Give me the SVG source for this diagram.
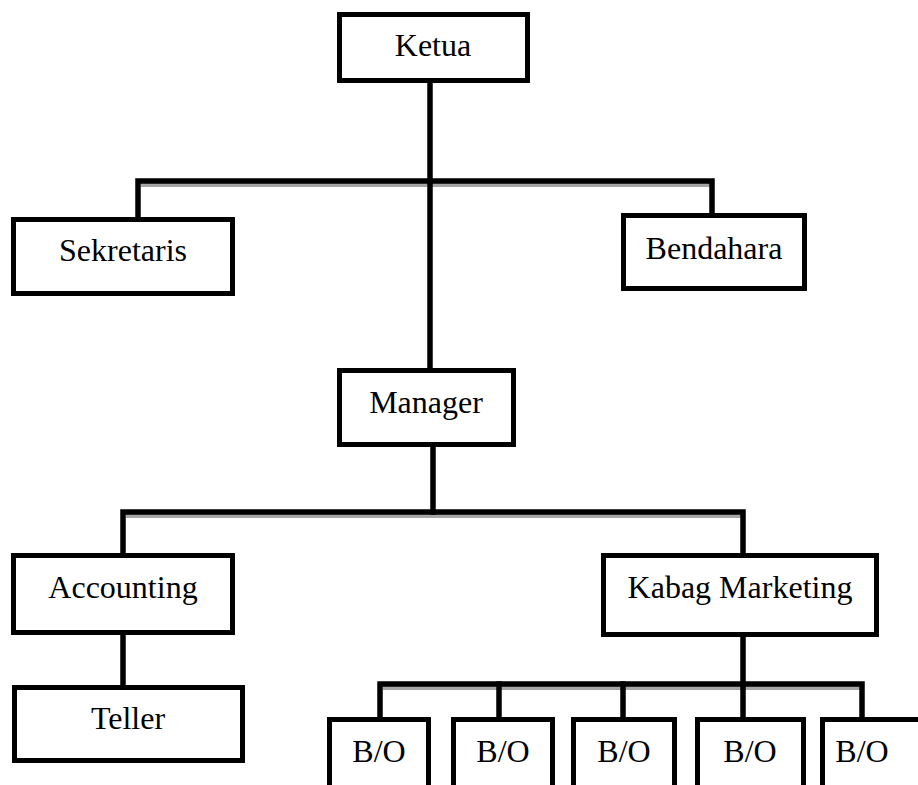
<svg xmlns="http://www.w3.org/2000/svg" width="918" height="785" viewBox="0 0 918 785">
<style>
  .box { fill: #ffffff; stroke: #000000; stroke-width: 5; }
  .open { fill: none; stroke: #000000; stroke-width: 5; }
  .ln { fill: none; stroke: #000000; stroke-width: 5.5; stroke-linecap: square; }
  .sh { fill: none; stroke: #a6a6a6; stroke-width: 4; }
  .t { font-family: "Liberation Serif", "Times New Roman", serif; font-size: 32px; fill: #000000; text-anchor: middle; }
</style>
<rect x="0" y="0" width="918" height="785" fill="#ffffff"/>
<g id="connectors">
  <line class="sh" x1="141" y1="185" x2="712" y2="185"/>
  <line class="sh" x1="126" y1="516" x2="743" y2="516"/>
  <line class="sh" x1="383" y1="688" x2="862" y2="688"/>
  <line class="ln" x1="430" y1="83" x2="430" y2="368"/>
  <polyline class="ln" points="138,217 138,181 712,181 712,213"/>
  <line class="ln" x1="433" y1="447" x2="433" y2="512"/>
  <polyline class="ln" points="123,553 123,512 743,512 743,553"/>
  <line class="ln" x1="123" y1="635" x2="123" y2="685"/>
  <line class="ln" x1="743" y1="637" x2="743" y2="717"/>
  <polyline class="ln" points="380,717 380,684 862,684 862,717"/>
  <line class="ln" x1="499" y1="684" x2="499" y2="717"/>
  <line class="ln" x1="623" y1="684" x2="623" y2="717"/>
</g>
<g id="ketua">
  <rect class="box" x="339.5" y="14.5" width="188" height="66"/>
  <text class="t" x="433" y="56">Ketua</text>
</g>
<g id="sekretaris">
  <rect class="box" x="13.5" y="219.5" width="219" height="74"/>
  <text class="t" x="123" y="261">Sekretaris</text>
</g>
<g id="bendahara">
  <rect class="box" x="623.5" y="215.5" width="181" height="73"/>
  <text class="t" x="714" y="259">Bendahara</text>
</g>
<g id="manager">
  <rect class="box" x="339.5" y="370.5" width="174" height="74"/>
  <text class="t" x="426" y="413">Manager</text>
</g>
<g id="accounting">
  <rect class="box" x="13.5" y="555.5" width="219" height="77"/>
  <text class="t" x="123" y="598">Accounting</text>
</g>
<g id="teller">
  <rect class="box" x="14.5" y="687.5" width="228" height="73"/>
  <text class="t" x="128" y="729">Teller</text>
</g>
<g id="kabag-marketing">
  <rect class="box" x="603.5" y="555.5" width="273" height="79"/>
  <text class="t" x="740" y="598">Kabag Marketing</text>
</g>
<g id="bo1">
  <path class="open" d="M329.5,790 V719.5 H428.5 V790"/>
  <text class="t" x="379" y="762">B/O</text>
</g>
<g id="bo2">
  <path class="open" d="M453.5,790 V719.5 H552.5 V790"/>
  <text class="t" x="503" y="762">B/O</text>
</g>
<g id="bo3">
  <path class="open" d="M573.5,790 V719.5 H674.5 V790"/>
  <text class="t" x="624" y="762">B/O</text>
</g>
<g id="bo4">
  <path class="open" d="M697.5,790 V719.5 H803.5 V790"/>
  <text class="t" x="750" y="762">B/O</text>
</g>
<g id="bo5">
  <path class="open" d="M822.5,790 V719.5 H925"/>
  <text class="t" x="862" y="762">B/O</text>
</g>
</svg>
